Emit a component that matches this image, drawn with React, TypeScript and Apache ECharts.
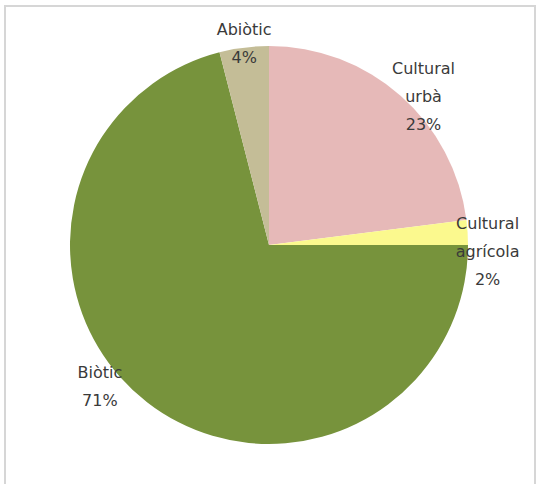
import React, { useEffect, useRef } from "react";
import * as echarts from "echarts";

const categories = ["Cultural urbà", "Cultural agrícola", "Biòtic", "Abiòtic"];
const values = [23, 2, 71, 4];
const colors = ["#e6b9b8", "#fbf98e", "#77933c", "#c4bd97"];

// small label nudges (Excel "best fit" placement)
const labelNudge = [
  [13, 12],
  [5, 20],
  [-38, -28],
  [2, 11],
];

export default function App() {
  const ref = useRef<HTMLDivElement>(null);
  useEffect(() => {
    document.body.style.margin = "0";
    const chart = echarts.init(ref.current!, null, { renderer: "svg" });
    const data = categories.map((name, i) => ({ name, value: values[i], itemStyle: { color: colors[i] } }));
    chart.setOption({
      animation: false,
      backgroundColor: "#ffffff",
      graphic: [
        {
          type: "rect",
          shape: { x: 5, y: 6, width: 530, height: 520 },
          style: { fill: "none", stroke: "#d6d6d6", lineWidth: 2 },
          silent: true,
        },
      ],
      series: [
        {
          type: "pie",
          center: [269, 245],
          radius: 199,
          startAngle: 90,
          clockwise: true,
          avoidLabelOverlap: false,
          silent: true,
          label: { show: false },
          labelLine: { show: false },
          itemStyle: { borderWidth: 0 },
          data,
        },
        {
          type: "pie",
          center: [269, 245],
          radius: [196, 226],
          startAngle: 90,
          clockwise: true,
          avoidLabelOverlap: false,
          silent: true,
          percentPrecision: 0,
          z: 5,
          itemStyle: { color: "rgba(0,0,0,0)", borderWidth: 0 },
          labelLine: { show: false },
          label: {
            show: true,
            position: "inside",
            formatter: (p: any) => `${p.name.replace(" ", "\n")}\n${p.percent}%`,
            fontFamily: "DejaVu Sans",
            fontSize: 16,
            lineHeight: 28,
            color: "#3a3a3a",
            align: "center",
          },
          labelLayout: (p: any) => ({ dx: labelNudge[p.dataIndex][0], dy: labelNudge[p.dataIndex][1] }),
          data: categories.map((name, i) => ({ name, value: values[i] })),
        },
      ],
    });
    return () => chart.dispose();
  }, []);
  return <div ref={ref} style={{ width: 536, height: 484 }} />;
}
